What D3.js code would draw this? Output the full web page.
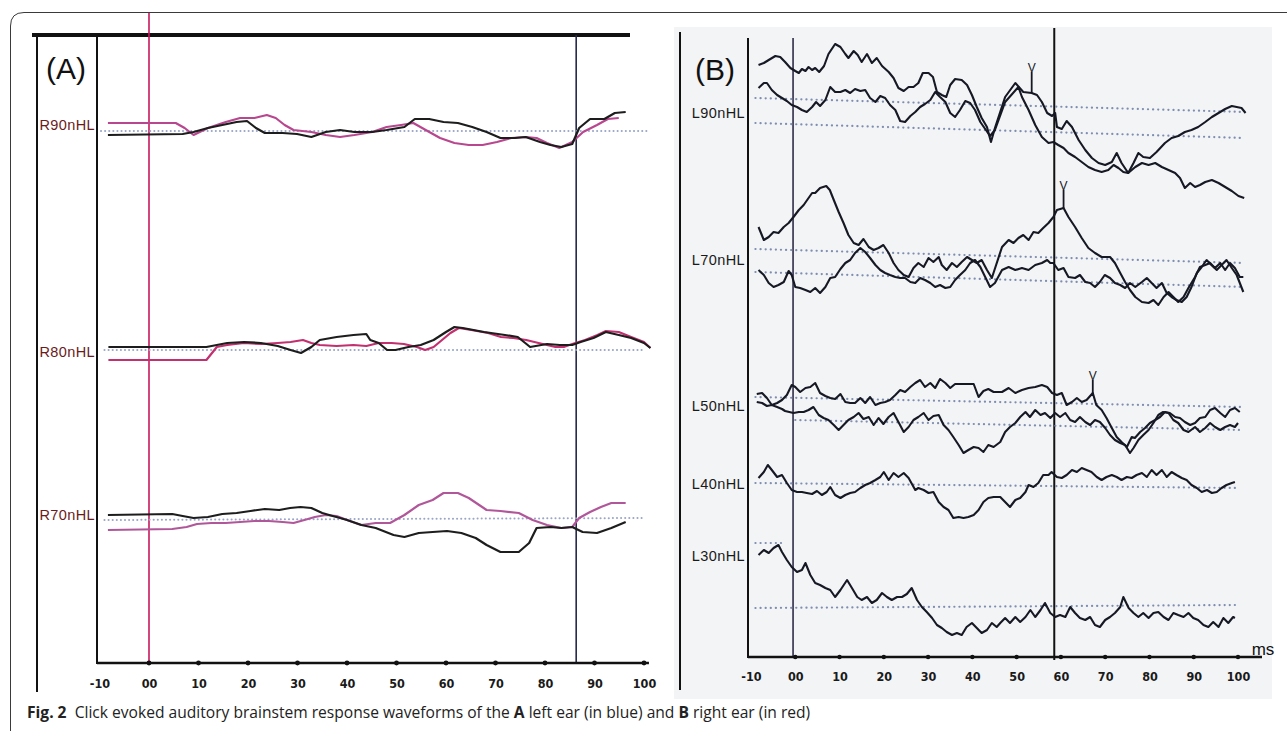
<!DOCTYPE html>
<html><head><meta charset="utf-8">
<script src="https://cdn.jsdelivr.net/npm/d3@7"></script>
<style>body{margin:0;background:#fff}</style>
</head><body>
<svg id="chart" width="1287" height="731"></svg>
<script>
// ---------------- DATA ----------------
const tickValues = [-10, 0, 10, 20, 30, 40, 50, 60, 70, 80, 90, 100];
const tickLabels = ["-10", "00", "10", "20", "30", "40", "50", "60", "70", "80", "90", "100"];

// Panel A (left ear) : levels and base offsets (amplitude units above x-axis)
const levelsA = ["R90nHL", "R80nHL", "R70nHL"];
const levelBaseA = [538, 311, 148];
const markersA = [0, 86.3];   // ms of vertical cursor lines
// traces: [ms, amplitude]
const r90Black = [[-8.3,-10],[6.8,-9],[9.0,-7],[11.9,-3],[14.8,0],[17.7,3],[19.8,4],[21.6,-3],[23.4,-8],[27.0,-8],[29.9,-9],[32.8,-12],[35.7,-7],[38.6,-5],[41.5,-7],[45.1,-7],[48.0,-5],[51.6,-2],[53.7,6],[56.6,6],[59.5,3],[62.4,2],[65.3,-2],[68.2,-7],[71.0,-13],[73.9,-13],[76.1,-12],[79.0,-17],[81.1,-20],[83.3,-22],[85.5,-19],[86.9,-3],[89.1,6],[92.0,6],[94.1,12],[96.3,13]];
const r90Pink = [[-8.3,2],[-0.4,2],[5.4,2],[7.2,-3],[9.0,-10],[11.9,-3],[15.5,3],[18.4,7],[21.3,7],[23.8,10],[25.6,7],[27.4,0],[29.2,-5],[32.8,-7],[35.7,-10],[38.6,-12],[41.5,-10],[45.1,-7],[48.0,-2],[50.9,0],[53.4,2],[55.9,-5],[58.8,-13],[61.7,-18],[64.6,-20],[67.4,-20],[70.3,-17],[73.2,-13],[76.1,-12],[78.3,-13],[80.4,-18],[82.9,-23],[85.5,-17],[87.7,-7],[90.5,0],[92.7,6],[94.9,7]];
const r80Black = [[-8.2,5],[11.6,5],[13.7,7],[15.8,9],[19.2,10],[22.6,9],[26.0,6],[28.6,2],[30.7,-1],[32.8,5],[34.5,12],[37.9,15],[41.3,17],[43.9,18],[44.7,12],[46.4,9],[48.1,2],[49.8,2],[52.4,5],[54.9,7],[57.5,12],[60.0,20],[61.7,25],[63.4,24],[67.7,20],[71.9,17],[74.5,15],[77.0,5],[80.4,8],[83.0,7],[85.5,7],[87.2,10],[89.8,14],[92.3,20],[94.9,17],[97.4,14],[100.0,9],[101.3,4]];
const r80Pink = [[-8.2,-8],[11.6,-8],[13.7,5],[15.8,7],[19.2,9],[22.6,8],[26.0,9],[28.6,10],[31.1,12],[32.8,9],[34.5,7],[37.9,6],[41.3,7],[43.9,6],[46.4,9],[49.0,9],[51.5,8],[54.1,5],[55.8,2],[57.5,5],[59.2,12],[60.9,19],[62.6,24],[65.1,22],[68.5,19],[71.1,15],[73.6,14],[76.2,12],[78.7,9],[82.1,5],[83.8,5],[85.5,8],[88.1,12],[90.6,17],[92.3,21],[94.9,20],[97.4,15],[100.0,10],[101.3,4]];
const r70Black = [[-8.3,0],[4.7,1],[6.8,-1],[9.0,-3],[11.9,-2],[14.8,1],[17.7,2],[20.5,4],[23.4,6],[26.3,5],[28.5,7],[30.6,8],[32.8,7],[35.0,2],[37.1,-1],[38.6,-3],[40.0,-5],[42.9,-10],[45.8,-13],[49.4,-20],[51.6,-22],[54.5,-18],[57.3,-17],[60.2,-16],[63.1,-18],[66.0,-23],[68.2,-30],[71.0,-37],[74.7,-37],[76.8,-28],[78.3,-13],[81.1,-12],[83.3,-13],[85.5,-12],[87.6,-17],[90.5,-18],[93.4,-13],[96.3,-7]];
const r70Pink = [[-8.3,-15],[4.7,-14],[7.6,-12],[9.7,-9],[12.6,-8],[15.5,-8],[18.4,-7],[21.3,-6],[24.2,-6],[27.0,-7],[29.2,-8],[31.4,-5],[33.5,-2],[35.7,0],[37.9,-1],[40.0,-5],[42.9,-10],[45.8,-8],[48.7,-8],[51.6,0],[54.5,10],[57.3,15],[59.5,22],[62.4,22],[64.6,17],[66.7,10],[68.2,5],[71.0,4],[74.7,2],[77.5,-5],[80.4,-10],[83.3,-13],[85.5,-12],[86.9,-3],[89.1,3],[91.3,8],[93.4,12],[96.3,12]];
// dotted baselines: [levelIndex, ms0, amp0, ms1, amp1]
const dottedA = [[0, -9.7, -6, 100.6, -6], [1, -9, 2, 100, 2], [2, -9, -5, 100, -3]];

// Panel B (right ear)
const levelsB = ["L90nHL", "L70nHL", "L50nHL", "L40nHL", "L30nHL"];
const levelBaseB = [544, 397, 251, 173, 101];
const markersB = [-0.5, 58.5];
const l90a = [[-8.3,48],[-7.1,50],[-6.0,53],[-4.5,57],[-3.4,56],[-2.3,51],[-1.1,45],[0,42],[0.8,40],[1.5,44],[2.3,42],[3.0,46],[3.8,43],[4.5,45],[5.4,41],[6.5,47],[7.5,59],[9.0,69],[10.2,66],[11.3,59],[12.0,55],[13.2,62],[14.1,58],[15.0,51],[16.2,59],[17.3,50],[18.4,55],[19.6,47],[21.1,41],[22.2,35],[23.3,25],[24.5,22],[25.6,26],[26.7,26],[27.8,30],[28.8,40],[30.1,40],[31.1,36],[32.0,21],[33.1,18],[34.1,16],[35.0,28],[36.1,34],[37.6,33],[38.8,28],[39.9,18],[41.0,6],[42.1,-5],[43.3,-14],[44.2,-29],[45.1,-15],[47.4,16],[49.7,30],[51.5,21],[53.4,20],[54.6,18],[55.7,11],[56.9,0],[58.0,-3],[58.7,0],[59.1,-14],[60.2,-16],[61.3,-8],[62.5,-14],[64.0,-27],[65.5,-37],[67.0,-45],[68.5,-50],[70.0,-52],[71.5,-49],[72.6,-40],[73.7,-50],[75.2,-60],[76.4,-50],[77.5,-40],[78.6,-44],[80.1,-45],[81.6,-39],[83.5,-30],[85.0,-25],[86.5,-23],[88.0,-19],[89.5,-17],[91.0,-14],[92.6,-9],[94.1,-4],[95.6,0],[97.1,4],[98.6,7],[99.7,6],[100.8,5],[101.7,0]];
const l90b = [[-8.3,25],[-7.1,30],[-6.4,30],[-5.3,23],[-4.1,18],[-3.0,15],[-1.9,12],[-0.8,8],[0.4,6],[1.5,3],[2.6,1],[3.8,6],[4.7,11],[5.6,7],[6.8,13],[7.9,26],[9.0,21],[10.2,21],[11.3,23],[12.4,20],[13.5,24],[14.7,22],[15.8,23],[16.9,15],[18.1,11],[19.2,17],[20.3,15],[21.4,8],[22.6,3],[23.7,-8],[24.8,-9],[26.0,-3],[27.1,1],[28.2,6],[29.3,9],[30.5,13],[31.6,21],[32.7,16],[33.9,11],[35.0,0],[36.1,-4],[37.2,3],[38.4,12],[39.5,10],[40.6,3],[41.8,-9],[42.9,-16],[44.0,-23],[45.1,-17],[47.4,11],[50.4,26],[51.2,16],[52.7,3],[54.2,-12],[55.7,-24],[57.2,-30],[58.3,-29],[59.4,-32],[60.6,-35],[61.7,-40],[63.2,-44],[64.7,-49],[66.2,-54],[67.7,-57],[69.2,-59],[70.7,-57],[71.9,-52],[73.0,-55],[74.1,-59],[75.2,-60],[76.8,-54],[78.3,-50],[79.8,-52],[81.3,-50],[82.8,-54],[84.3,-57],[85.8,-60],[86.9,-65],[88.0,-75],[89.2,-70],[90.3,-74],[91.4,-72],[92.6,-69],[94.1,-67],[95.6,-70],[97.1,-74],[98.6,-78],[100.1,-83],[101.4,-85]];
const l70a = [[-8.3,33],[-7.1,20],[-6.0,23],[-4.9,28],[-3.8,27],[-2.6,33],[-1.5,37],[-0.4,43],[0.8,50],[1.9,55],[3.0,62],[3.8,67],[4.5,67],[5.6,72],[7.0,74],[7.8,70],[8.7,60],[9.8,48],[10.9,37],[12.0,25],[13.2,17],[14.3,15],[15.4,21],[16.6,13],[17.7,10],[18.8,12],[19.9,15],[21.1,7],[22.2,-3],[23.3,-10],[24.5,-15],[25.6,-17],[26.7,-8],[27.8,-3],[29.0,-7],[30.1,2],[31.2,-2],[32.4,3],[33.1,-5],[34.2,-10],[35.4,-3],[36.5,-7],[37.6,-2],[38.8,3],[39.9,0],[41.0,-3],[42.1,0],[43.3,-10],[44.4,-18],[46.7,13],[48.2,20],[49.3,17],[50.4,22],[51.5,25],[52.7,20],[53.8,28],[54.9,27],[56.0,32],[57.2,37],[58.3,43],[59.1,50],[60.6,52],[61.7,43],[63.2,33],[64.7,22],[66.2,12],[67.7,7],[69.2,3],[71.1,3],[72.2,-3],[73.4,-13],[74.5,-22],[75.6,-30],[76.8,-37],[78.3,-42],[79.8,-43],[80.9,-40],[82.0,-45],[83.2,-37],[84.3,-32],[85.4,-37],[86.5,-42],[87.7,-37],[88.8,-28],[90.3,-17],[91.4,-7],[92.6,-5],[93.7,-3],[94.8,-8],[96.0,-3],[97.1,-10],[98.2,-3],[99.3,-8],[100.4,-17],[101.2,-17]];
const l70b = [[-8.3,-10],[-7.1,-15],[-6.0,-23],[-4.9,-27],[-3.8,-25],[-2.6,-22],[-1.5,-11],[-0.8,-15],[0,-27],[1.1,-28],[2.3,-30],[3.4,-32],[4.5,-28],[5.6,-33],[6.8,-27],[7.9,-18],[9.0,-17],[10.2,-9],[11.3,-3],[12.4,0],[13.5,7],[14.7,12],[15.8,8],[16.9,2],[18.1,-5],[19.2,-10],[20.3,-13],[21.4,-15],[22.6,-17],[23.7,-18],[24.8,-18],[26.0,-22],[27.1,-23],[28.2,-18],[29.3,-20],[30.5,-23],[31.6,-27],[32.7,-25],[33.9,-28],[35.0,-27],[36.1,-20],[37.2,-15],[38.4,-10],[39.5,-3],[40.6,0],[41.8,-7],[42.9,-17],[44.0,-27],[45.1,-23],[46.7,-10],[48.2,-7],[49.7,-10],[51.2,-8],[52.7,-10],[54.2,-5],[55.7,-3],[56.9,0],[57.6,-3],[58.3,-3],[59.4,-10],[60.6,-8],[61.7,-17],[63.2,-18],[64.3,-15],[65.5,-22],[66.6,-23],[67.7,-27],[68.8,-22],[69.9,-15],[71.1,-18],[72.2,-23],[73.4,-25],[74.5,-28],[75.6,-23],[76.8,-27],[78.3,-22],[79.4,-18],[80.5,-23],[81.6,-28],[82.8,-23],[83.9,-33],[85.0,-37],[86.1,-40],[87.3,-42],[88.4,-37],[89.5,-27],[90.7,-13],[91.8,-7],[92.9,0],[94.0,-5],[95.2,-10],[96.3,-5],[97.4,0],[98.6,-8],[99.7,-15],[101.2,-32]];
const l50a = [[-8.7,12],[-7.5,13],[-6.4,8],[-5.3,1],[-4.1,3],[-3.0,6],[-1.9,11],[-0.8,21],[0,19],[1.1,14],[2.3,18],[3.4,19],[4.5,23],[5.6,13],[6.8,10],[7.9,8],[9.0,7],[10.2,12],[11.3,4],[12.4,3],[13.5,3],[14.7,8],[15.8,3],[16.9,9],[18.1,1],[19.2,3],[20.3,4],[21.4,6],[22.6,11],[23.7,16],[24.8,14],[26.0,19],[27.1,23],[28.2,26],[29.3,19],[30.5,23],[31.6,18],[32.7,27],[33.9,23],[35.0,18],[36.1,22],[37.2,22],[38.8,22],[40.3,22],[41.4,9],[42.5,15],[43.6,17],[44.8,14],[46.7,14],[48.2,18],[49.7,13],[51.2,16],[52.7,18],[54.2,19],[55.7,21],[56.9,19],[58.0,13],[59.1,11],[60.2,13],[61.3,1],[62.5,4],[63.6,8],[64.7,4],[65.8,6],[67.2,13],[68.0,1],[69.2,-4],[70.3,-12],[71.5,-22],[72.6,-31],[73.7,-36],[74.9,-41],[76.0,-31],[76.7,-32],[77.9,-26],[79.0,-22],[80.1,-17],[81.3,-14],[82.4,-11],[83.5,-6],[84.6,-7],[85.8,-11],[86.9,-12],[88.0,-16],[89.2,-19],[90.3,-17],[91.4,-12],[92.6,-11],[93.7,-4],[94.8,-2],[96.0,-7],[97.1,-11],[98.2,-4],[99.3,-2],[100.4,-6]];
const l50b = [[-8.7,4],[-7.5,3],[-6.4,0],[-5.3,1],[-4.1,-1],[-3.0,-3],[-2.3,-5],[-0.4,-7],[0.8,-6],[1.9,-6],[3.0,-4],[4.1,-1],[5.3,-9],[6.4,-12],[7.5,-14],[8.7,-19],[9.8,-24],[10.9,-19],[12.0,-14],[13.2,-11],[14.3,-7],[15.4,-13],[16.6,-11],[17.7,-19],[18.8,-12],[19.9,-18],[21.1,-11],[22.2,-7],[23.3,-16],[24.5,-26],[25.6,-21],[26.7,-14],[27.8,-11],[29.0,-7],[30.1,-14],[31.2,-10],[32.4,-9],[33.5,-19],[34.6,-24],[35.7,-31],[36.9,-39],[38.0,-47],[39.1,-44],[40.3,-41],[41.4,-42],[42.5,-46],[43.6,-39],[44.8,-41],[46.3,-36],[47.4,-26],[48.5,-21],[49.7,-17],[50.8,-11],[52.0,-6],[53.0,-11],[54.2,-4],[55.4,-9],[56.4,-7],[57.6,-12],[58.7,-7],[59.8,-11],[61.0,-7],[62.1,-14],[63.2,-16],[64.3,-11],[65.5,-16],[66.6,-19],[67.7,-14],[68.8,-16],[70.0,-22],[71.1,-29],[72.2,-34],[73.4,-37],[74.5,-39],[75.6,-47],[76.4,-42],[77.5,-34],[78.6,-29],[79.8,-24],[80.9,-17],[82.0,-9],[83.1,-6],[84.3,-7],[85.4,-14],[86.5,-17],[87.7,-24],[88.8,-26],[90.3,-21],[91.4,-26],[92.6,-22],[93.7,-17],[94.8,-21],[96.0,-24],[97.1,-21],[98.2,-19],[99.3,-21],[100.0,-17]];
const l40 = [[-8.3,6],[-7.1,12],[-6.2,19],[-5.3,14],[-4.1,7],[-3.0,9],[-1.9,1],[-0.8,-6],[0.4,-8],[1.5,-8],[2.6,-9],[3.8,-10],[4.9,-7],[6.0,-11],[7.1,-8],[7.9,-3],[9.0,-11],[10.2,-14],[11.3,-11],[12.4,-9],[13.5,-8],[14.7,-4],[15.8,-1],[16.9,1],[18.1,4],[19.2,7],[20.0,12],[21.1,4],[22.2,11],[23.3,7],[24.5,11],[25.6,6],[27.1,-6],[27.8,-4],[29.0,-6],[30.1,-9],[31.2,-8],[32.4,-18],[33.5,-23],[34.6,-26],[35.7,-34],[36.9,-33],[38.0,-34],[39.1,-33],[40.3,-31],[41.4,-26],[42.5,-18],[43.6,-14],[44.8,-13],[46.3,-13],[47.4,-18],[48.5,-23],[49.7,-16],[50.8,-14],[52.0,-8],[52.7,-1],[53.8,-3],[54.9,1],[56.0,9],[57.2,9],[57.9,12],[59.1,7],[60.2,6],[61.3,9],[62.5,14],[63.6,12],[64.7,16],[65.8,14],[66.9,12],[68.1,7],[69.2,4],[70.3,7],[71.5,9],[72.6,7],[73.7,4],[74.9,7],[76.0,6],[77.1,9],[78.3,11],[79.4,7],[80.5,14],[81.6,9],[82.8,14],[83.9,7],[85.0,12],[86.1,9],[87.3,6],[88.4,4],[89.5,-1],[90.7,-4],[91.8,-8],[93.0,-6],[94.1,-9],[95.2,-8],[96.3,-4],[97.4,-1],[98.6,1],[99.3,2]];
const l30 = [[-8.3,1],[-7.1,6],[-6.0,3],[-4.9,8],[-3.8,11],[-3.0,4],[-1.9,-4],[-0.8,-11],[0.4,-16],[1.5,-14],[2.3,-7],[3.4,-19],[4.5,-27],[5.6,-29],[6.8,-32],[7.9,-34],[9.0,-41],[10.2,-34],[11.7,-24],[12.8,-32],[14.0,-41],[15.0,-44],[16.2,-41],[17.3,-47],[18.4,-44],[19.6,-37],[20.7,-41],[21.8,-44],[23.0,-41],[24.1,-41],[25.2,-38],[26.3,-32],[27.5,-44],[28.6,-51],[29.7,-56],[30.9,-62],[32.0,-69],[33.1,-72],[34.2,-76],[35.4,-79],[36.5,-77],[37.6,-79],[38.7,-71],[39.9,-67],[41.0,-72],[42.1,-77],[43.3,-74],[44.4,-67],[45.5,-71],[46.3,-67],[47.4,-62],[48.5,-67],[49.7,-61],[50.8,-66],[52.0,-61],[53.1,-54],[54.2,-61],[55.4,-54],[56.4,-47],[57.6,-57],[58.7,-61],[59.8,-59],[61.0,-61],[62.1,-51],[63.2,-57],[64.3,-62],[65.5,-64],[66.6,-61],[67.7,-69],[68.8,-71],[70.0,-64],[71.1,-61],[72.2,-57],[73.4,-51],[74.1,-41],[75.3,-52],[76.4,-57],[77.5,-61],[78.6,-57],[79.8,-62],[80.9,-57],[82.0,-56],[83.2,-61],[84.3,-64],[85.4,-57],[86.5,-59],[87.7,-61],[88.8,-57],[89.9,-62],[91.0,-64],[92.2,-69],[93.3,-71],[94.4,-66],[95.6,-71],[96.7,-62],[97.8,-67],[98.9,-61],[99.3,-62]];
// dotted baselines: [levelIndex, ms0, amp0, ms1, amp1]
const dottedB = [[0,-9,15,101.5,1],[0,-9,-10,101.5,-25],[1,-9,11,101.5,-3],[1,-9,-12,101.5,-27],[2,-9,9,101,-1],[2,0,-14,101,-24],[3,-9,1,100,-4],[4,-9,13,-3,13],[4,-9,-52,100,-49]];
// wave V markers: [levelIndex, ms, amp at trace, amp at top of tick]
const waveV = [[0,53.4,20,41],[1,60.6,52,70],[2,67.2,13,26]];

const caption = {fig: "Fig. 2", parts: [["\u00a0 Click evoked auditory brainstem response waveforms of the ", false], ["A", true], [" left ear (in blue) and ", false], ["B", true], [" right ear (in red)", false]]};

// ---------------- DRAWING ----------------
const svg = d3.select("#chart");
svg.append("rect").attr("width",1287).attr("height",731).attr("fill","#fff");

// outer frame
svg.append("path").attr("d","M10.5,731 V26 Q10.5,12.5 24,12.5 H1287")
  .attr("fill","none").attr("stroke","#3a3a3a").attr("stroke-width",1);

// ===== Panel A =====
const xA = d3.scaleLinear().domain([-10,100]).range([99.5,644]);
const yA = d3.scaleLinear().domain([0,628]).range([663,35]);
const gA = svg.append("g");

gA.append("line").attr("x1",32).attr("x2",630).attr("y1",35).attr("y2",35).attr("stroke","#111").attr("stroke-width",4);
gA.append("line").attr("x1",37).attr("x2",37).attr("y1",35).attr("y2",692).attr("stroke","#111").attr("stroke-width",2);
gA.append("line").attr("x1",97).attr("x2",97).attr("y1",35).attr("y2",664).attr("stroke","#111").attr("stroke-width",2);
gA.append("line").attr("x1",xA(markersA[0])).attr("x2",xA(markersA[0])).attr("y1",13).attr("y2",663).attr("stroke","#c8175d").attr("stroke-width",1.6);
gA.append("line").attr("x1",xA(markersA[1])).attr("x2",xA(markersA[1])).attr("y1",35).attr("y2",662).attr("stroke","#24284a").attr("stroke-width",1.6);

// x axis A
gA.append("line").attr("x1",97).attr("x2",xA(101)).attr("y1",yA(0)).attr("y2",yA(0)).attr("stroke","#111").attr("stroke-width",2.5);
const axA = gA.append("g").attr("transform",`translate(0,${yA(0)})`)
  .call(d3.axisBottom(xA).tickValues(tickValues).tickFormat((d,i)=>tickLabels[i]).tickSize(0).tickPadding(16));
axA.select(".domain").remove();
axA.selectAll("text").attr("font-family","'DejaVu Sans Condensed','DejaVu Sans',sans-serif").attr("font-weight","bold").attr("font-size",12.5).attr("fill","#1a1a1a");
gA.selectAll("circle.tA").data(tickValues.slice(1)).join("circle").attr("cx",d=>xA(d)).attr("cy",yA(0)).attr("r",2.4).attr("fill","#111");

// dotted baselines A
gA.selectAll("line.dA").data(dottedA).join("line")
  .attr("x1",d=>xA(d[1])).attr("y1",d=>yA(levelBaseA[d[0]]+d[2]))
  .attr("x2",d=>xA(d[3])).attr("y2",d=>yA(levelBaseA[d[0]]+d[4]))
  .attr("stroke","#9aa6c8").attr("stroke-width",2).attr("stroke-linecap","round").attr("stroke-dasharray","0.1,4");

const tracesA = [
  {lvl:0, data:r90Pink, color:"#b8478f"}, {lvl:0, data:r90Black, color:"#1d1d1d"},
  {lvl:1, data:r80Pink, color:"#c2306f"}, {lvl:1, data:r80Black, color:"#1d1d1d"},
  {lvl:2, data:r70Pink, color:"#b0579a"}, {lvl:2, data:r70Black, color:"#1d1d1d"}
];
tracesA.forEach(t=>{
  const line = d3.line().x(d=>xA(d[0])).y(d=>yA(levelBaseA[t.lvl]+d[1]));
  gA.append("path").attr("d",line(t.data)).attr("fill","none").attr("stroke",t.color).attr("stroke-width",2.2).attr("stroke-linejoin","round");
});

// labels A
gA.selectAll("text.lA").data(levelsA).join("text")
  .attr("x",95).attr("y",(d,i)=>yA(levelBaseA[i])).attr("text-anchor","end").attr("dominant-baseline","central")
  .attr("font-family","'Liberation Sans',Arial,sans-serif").attr("font-size",14.5).attr("letter-spacing",0.4).attr("fill","#6b1b1b").text(d=>d);
gA.append("text").attr("x",46).attr("y",79).attr("font-family","'Liberation Sans',Arial,sans-serif").attr("font-size",30).attr("fill","#111").text("(A)");

// ===== Panel B =====
const xB = d3.scaleLinear().domain([-10,100]).range([751,1238]);
const yB = d3.scaleLinear().domain([0,620]).range([657,37]);
const gB = svg.append("g");
gB.append("rect").attr("x",674).attr("y",27).attr("width",598).attr("height",672).attr("fill","#f3f4f6");
gB.append("line").attr("x1",680).attr("x2",680).attr("y1",32).attr("y2",690).attr("stroke","#111").attr("stroke-width",2);
gB.append("line").attr("x1",748).attr("x2",748).attr("y1",38).attr("y2",658).attr("stroke","#111").attr("stroke-width",2);
gB.append("line").attr("x1",xB(markersB[0])).attr("x2",xB(markersB[0])).attr("y1",38).attr("y2",657).attr("stroke","#2e2c48").attr("stroke-width",1.6);
gB.append("line").attr("x1",xB(markersB[1])).attr("x2",xB(markersB[1])).attr("y1",28).attr("y2",660).attr("stroke","#111").attr("stroke-width",2);

gB.append("line").attr("x1",748).attr("x2",1262).attr("y1",yB(0)).attr("y2",yB(0)).attr("stroke","#111").attr("stroke-width",2.5);
const axB = gB.append("g").attr("transform",`translate(0,${yB(0)})`)
  .call(d3.axisBottom(xB).tickValues(tickValues).tickFormat((d,i)=>tickLabels[i]).tickSize(0).tickPadding(15));
axB.select(".domain").remove();
axB.selectAll("text").attr("font-family","'DejaVu Sans Condensed','DejaVu Sans',sans-serif").attr("font-weight","bold").attr("font-size",12.5).attr("fill","#1a1a1a");
gB.selectAll("circle.tB").data(tickValues.slice(1)).join("circle").attr("cx",d=>xB(d)).attr("cy",yB(0)).attr("r",2.2).attr("fill","#111");
gB.append("text").attr("x",1263).attr("y",655).attr("text-anchor","middle").attr("font-family","'Liberation Sans',Arial,sans-serif").attr("font-size",17).attr("fill","#111").text("ms");

gB.selectAll("line.dB").data(dottedB).join("line")
  .attr("x1",d=>xB(d[1])).attr("y1",d=>yB(levelBaseB[d[0]]+d[2]))
  .attr("x2",d=>xB(d[3])).attr("y2",d=>yB(levelBaseB[d[0]]+d[4]))
  .attr("stroke","#7e8db0").attr("stroke-width",2.2).attr("stroke-linecap","round").attr("stroke-dasharray","0.1,5");

const tracesB = [{lvl:0,data:l90a},{lvl:0,data:l90b},{lvl:1,data:l70a},{lvl:1,data:l70b},{lvl:2,data:l50a},{lvl:2,data:l50b},{lvl:3,data:l40},{lvl:4,data:l30}];
tracesB.forEach(t=>{
  const line = d3.line().x(d=>xB(d[0])).y(d=>yB(levelBaseB[t.lvl]+d[1]));
  gB.append("path").attr("d",line(t.data)).attr("fill","none").attr("stroke","#161824").attr("stroke-width",2.1).attr("stroke-linejoin","round");
});

// wave V markers
waveV.forEach(v=>{
  const x = xB(v[1]);
  gB.append("line").attr("x1",x).attr("x2",x).attr("y1",yB(levelBaseB[v[0]]+v[2])).attr("y2",yB(levelBaseB[v[0]]+v[3])).attr("stroke","#161824").attr("stroke-width",1.8);
  gB.append("text").attr("x",x).attr("y",yB(levelBaseB[v[0]]+v[3])).attr("text-anchor","middle")
    .attr("font-family","'Liberation Sans',Arial,sans-serif").attr("font-size",12).attr("fill","#161824").text("V");
});

gB.selectAll("text.lB").data(levelsB).join("text")
  .attr("x",745).attr("y",(d,i)=>yB(levelBaseB[i])).attr("text-anchor","end").attr("dominant-baseline","central")
  .attr("font-family","'Liberation Sans',Arial,sans-serif").attr("font-size",14.5).attr("letter-spacing",0.4).attr("fill","#1a1a1a").text(d=>d);
gB.append("text").attr("x",695).attr("y",80).attr("font-family","'Liberation Sans',Arial,sans-serif").attr("font-size",30).attr("fill","#111").text("(B)");

// ===== Caption =====
const cap = svg.append("text").attr("x",27).attr("y",718).attr("font-family","'Open Sans','Noto Sans',sans-serif").attr("font-size",15.6).attr("fill","#222");
cap.append("tspan").attr("font-weight","bold").text(caption.fig);
caption.parts.forEach(p=>cap.append("tspan").attr("font-weight",p[1]?"bold":"normal").text(p[0]));
</script>
</body></html>
